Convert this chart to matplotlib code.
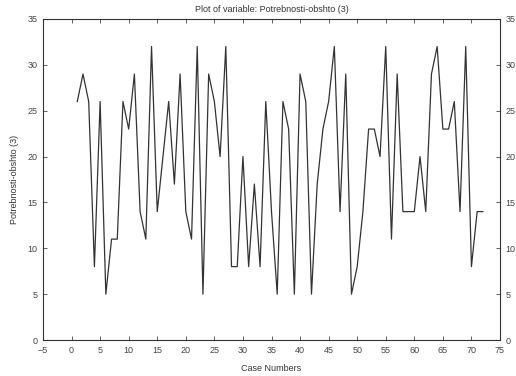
import matplotlib
matplotlib.use("Agg")
import matplotlib.pyplot as plt
import numpy as np

case_numbers = list(range(1, 73))
values = [26, 29, 26, 8, 26, 5, 11, 11, 26, 23,
          29, 14, 11, 32, 14, 20, 26, 17, 29, 14,
          11, 32, 5, 29, 26, 20, 32, 8, 8, 20,
          8, 17, 8, 26, 14, 5, 26, 23, 5, 29,
          26, 5, 17, 23, 26, 32, 14, 29, 5, 8,
          14, 23, 23, 20, 32, 11, 29, 14, 14, 14,
          20, 14, 29, 32, 23, 23, 26, 14, 32, 8,
          14, 14]
x_ticks = list(range(-5, 80, 5))
y_ticks = list(range(0, 40, 5))

plt.rcParams['font.family'] = ['Liberation Sans', 'DejaVu Sans']

fig = plt.figure(figsize=(5.16, 3.76), dpi=100)
ax = fig.add_axes([43/516, 1-340/376, (500-43)/516, (340-19)/376])
ax.plot(case_numbers, values, color='#333333', linewidth=0.9)
ax.set_xlim(-5, 75)
ax.set_ylim(0, 35)
ax.set_xticks(x_ticks)
ax.set_yticks(y_ticks)
ax.tick_params(direction='in', length=3, width=0.6, labelsize=6.5,
               top=True, right=True, labelright=True, colors='#444444', pad=4)
for s in ax.spines.values():
    s.set_linewidth(0.8)
    s.set_color('#333333')
ax.set_title('Plot of variable: Potrebnosti-obshto (3)', fontsize=6.5, color='#333333', pad=5)
ax.set_xlabel('Case Numbers', fontsize=6.5, color='#333333', labelpad=7)
ax.set_ylabel('Potrebnosti-obshto (3)', fontsize=6.5, color='#333333', labelpad=6)
fig.savefig('out.png', dpi=100)
